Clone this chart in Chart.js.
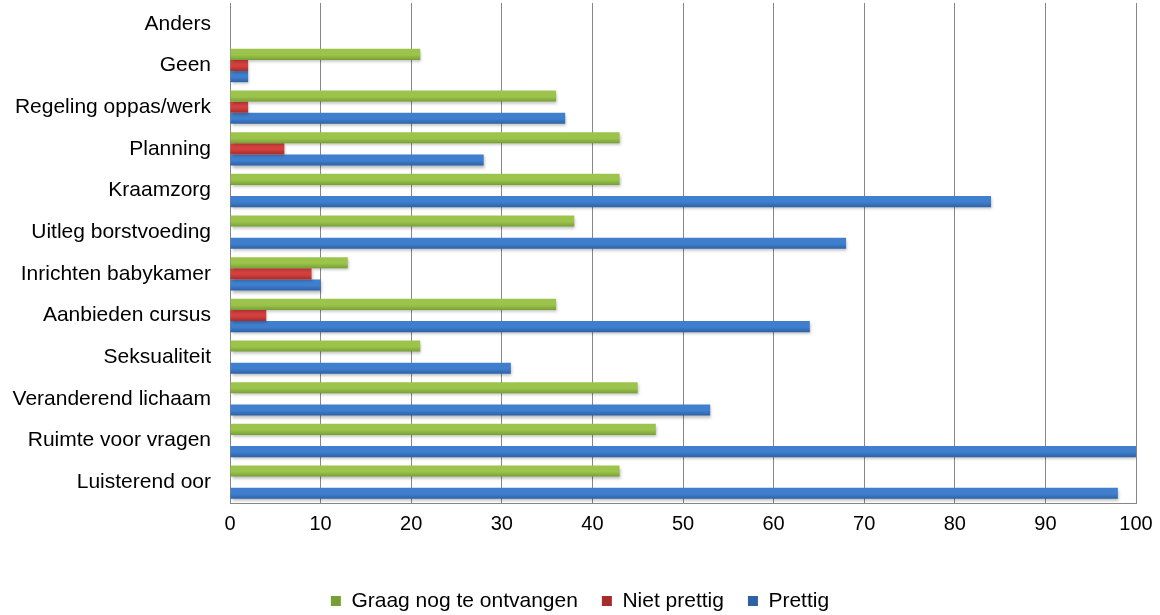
<!DOCTYPE html>
<html>
<head>
<meta charset="utf-8">
<script src="https://cdn.jsdelivr.net/npm/chart.js@4/dist/chart.umd.min.js"></script>
<style>
  html, body { margin: 0; padding: 0; background: #fff; }
  #wrap { width: 1160px; height: 615px; }
</style>
</head>
<body>
<div id="wrap"><canvas id="chart" width="1160" height="615"></canvas></div>
<script>
// categories, listed top to bottom
const categories = [
    'Anders', 'Geen', 'Regeling oppas/werk', 'Planning', 'Kraamzorg',
    'Uitleg borstvoeding', 'Inrichten babykamer', 'Aanbieden cursus',
    'Seksualiteit', 'Veranderend lichaam', 'Ruimte voor vragen', 'Luisterend oor'
];
const graagValues = [0, 21, 36, 43, 43, 38, 13, 36, 21, 45, 47, 43];
const nietPrettigValues = [0, 2, 2, 6, 0, 0, 9, 4, 0, 0, 0, 0];
const prettigValues = [0, 2, 37, 28, 84, 68, 10, 64, 31, 53, 100, 98];
const xTicks = [0, 10, 20, 30, 40, 50, 60, 70, 80, 90, 100];

const CAT_PCT = 0.8;
const FONT = "'Liberation Sans', Arial, sans-serif";

// vertical gradient across each single bar (light top, darker bottom edge)
function barGradient(top, bottom) {
    return function (ctx) {
        const chart = ctx.chart;
        const y = chart.scales.y;
        if (!y || !chart.chartArea) return top;
        const catH = chart.chartArea.height / categories.length;
        const barH = catH * CAT_PCT / chart.data.datasets.length;
        const center = y.getPixelForValue(ctx.dataIndex);
        const y0 = center - catH * CAT_PCT / 2 + ctx.datasetIndex * barH;
        const g = chart.ctx.createLinearGradient(0, y0, 0, y0 + barH);
        g.addColorStop(0, top);
        g.addColorStop(0.55, top);
        g.addColorStop(1, bottom);
        return g;
    };
}

// soft drop shadow under the bars
const barShadow = {
    id: 'barShadow',
    beforeDatasetsDraw(chart) {
        const c = chart.ctx;
        c.save();
        c.shadowColor = 'rgba(0,0,0,0.28)';
        c.shadowBlur = 3;
        c.shadowOffsetX = 1;
        c.shadowOffsetY = 2;
    },
    afterDatasetsDraw(chart) {
        chart.ctx.restore();
    }
};

new Chart(document.getElementById('chart').getContext('2d'), {
    type: 'bar',
    data: {
        labels: categories,
        datasets: [{
            label: 'Graag nog te ontvangen',
            data: graagValues,
            backgroundColor: barGradient('#9cc44c', '#76a034')
        }, {
            label: 'Niet prettig',
            data: nietPrettigValues,
            backgroundColor: barGradient('#d4403e', '#a62c2b')
        }, {
            label: 'Prettig',
            data: prettigValues,
            backgroundColor: barGradient('#3f7fcd', '#2c62a6')
        }]
    },
    options: {
        indexAxis: 'y',
        responsive: false,
        animation: false,
        categoryPercentage: CAT_PCT,
        barPercentage: 1,
        layout: { padding: { top: 3, right: 0, left: 0, bottom: -6.5 } },
        scales: {
            x: {
                min: 0,
                max: 100,
                afterBuildTicks: axis => { axis.ticks = xTicks.map(v => ({ value: v })); },
                grid: { color: '#878787', lineWidth: 1, drawTicks: false },
                border: { color: '#878787', width: 1 },
                ticks: { color: '#000', padding: 9, font: { family: FONT, size: 20 } },
                afterFit: axis => {
                    // keep room on the right for the "100" label; legend stays centred on the canvas
                    axis.height = 63.5;
                    axis.paddingLeft = 0;
                    axis.paddingRight = 24;
                }
            },
            y: {
                grid: { display: false, drawTicks: false },
                border: { color: '#878787', width: 1 },
                ticks: { color: '#000', padding: 19, font: { family: FONT, size: 21 } },
                afterFit: axis => {
                    axis.width = 230;
                    axis.paddingTop = 0;
                    axis.paddingBottom = 0;
                }
            }
        },
        plugins: {
            legend: {
                position: 'bottom',
                labels: {
                    color: '#000',
                    boxWidth: 10,
                    boxHeight: 10,
                    padding: 24,
                    font: { family: FONT, size: 21 }
                }
            },
            tooltip: { enabled: false }
        }
    },
    plugins: [barShadow]
});
</script>
</body>
</html>
